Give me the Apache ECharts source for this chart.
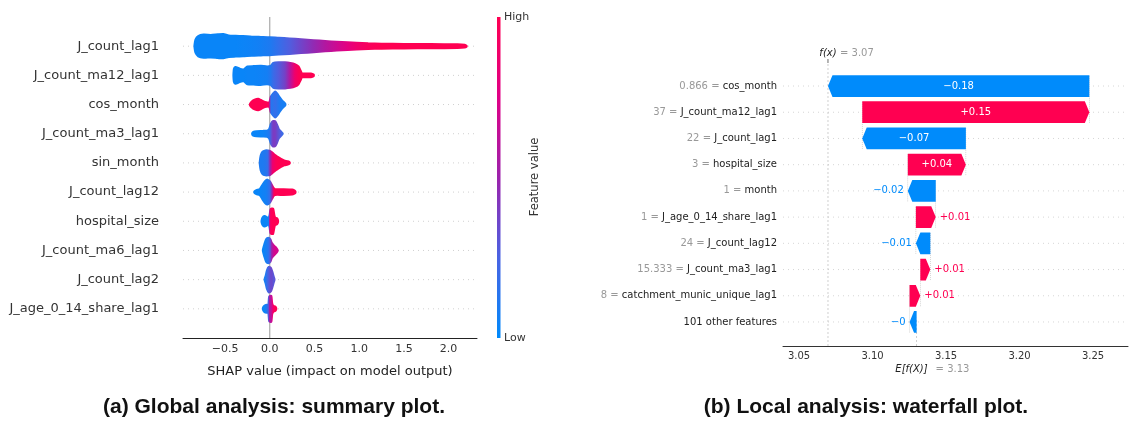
<!DOCTYPE html>
<html><head><meta charset="utf-8">
<script src="https://cdn.jsdelivr.net/npm/echarts@6/dist/echarts.min.js"></script>
<style>html,body{margin:0;padding:0;background:#fff}#c{width:1130px;height:421px}</style>
</head><body><div id="c"></div>
<script>
// ================= DATA =================
// (a) Summary plot: features from top to bottom
const summaryFeatures = ['J_count_lag1','J_count_ma12_lag1','cos_month','J_count_ma3_lag1','sin_month','J_count_lag12','hospital_size','J_count_ma6_lag1','J_count_lag2','J_age_0_14_share_lag1'];
// beeswarm outlines: [SHAP value, half-thickness (row units), feature value 0..1]
const swarm_J_count_lag1 = [[-0.84,0.05,0.03],[-0.83,0.22,0.03],[-0.80,0.34,0.03],[-0.74,0.39,0.03],[-0.66,0.38,0.03],[-0.58,0.40,0.03],[-0.52,0.41,0.03],[-0.46,0.36,0.03],[-0.38,0.35,0.03],[-0.30,0.34,0.04],[-0.2,0.32,0.05],[-0.1,0.31,0.07],[0.0,0.30,0.1],[0.1,0.28,0.18],[0.22,0.26,0.27],[0.35,0.23,0.37],[0.49,0.2,0.47],[0.62,0.17,0.58],[0.75,0.145,0.68],[0.87,0.125,0.78],[0.97,0.11,0.87],[1.1,0.09,0.95],[1.25,0.08,1],[1.5,0.07,1],[1.8,0.065,1],[2.1,0.058,1],[2.18,0.04,1],[2.2,0.01,1]];
const swarm_J_count_ma12_lag1 = [[-0.405,0.03,0.03],[-0.40,0.22,0.03],[-0.385,0.28,0.03],[-0.36,0.26,0.03],[-0.33,0.21,0.03],[-0.29,0.2,0.03],[-0.25,0.3,0.04],[-0.18,0.31,0.04],[-0.1,0.32,0.05],[-0.03,0.3,0.07],[0.01,0.32,0.12],[0.04,0.42,0.2],[0.1,0.44,0.28],[0.17,0.44,0.38],[0.23,0.42,0.6],[0.28,0.38,0.88],[0.32,0.3,0.97],[0.345,0.15,1],[0.36,0.06,1],[0.46,0.055,1],[0.49,0.02,1]];
const swarm_cos_month = [[-0.22,0.02,1],[-0.2,0.1,1],[-0.17,0.16,1],[-0.13,0.19,1],[-0.1,0.15,1],[-0.07,0.1,1],[-0.04,0.07,1],[-0.015,0.06,0.95],[0.0,0.1,0.5],[0.012,0.26,0.12],[0.035,0.36,0.15],[0.06,0.44,0.18],[0.08,0.38,0.15],[0.11,0.24,0.1],[0.14,0.12,0.08],[0.165,0.05,0.08],[0.172,0.02,0.08]];
const swarm_J_count_ma3_lag1 = [[-0.195,0.02,0.03],[-0.185,0.06,0.03],[-0.15,0.08,0.03],[-0.08,0.09,0.04],[-0.03,0.1,0.08],[-0.005,0.16,0.12],[0.015,0.34,0.3],[0.035,0.43,0.4],[0.06,0.42,0.4],[0.08,0.3,0.35],[0.1,0.15,0.3],[0.125,0.07,0.25],[0.14,0.02,0.2]];
const swarm_sin_month = [[-0.11,0.04,0.1],[-0.1,0.25,0.1],[-0.08,0.38,0.1],[-0.05,0.42,0.12],[-0.02,0.42,0.18],[0.005,0.4,0.5],[0.03,0.34,0.85],[0.06,0.26,0.95],[0.09,0.2,1],[0.12,0.14,1],[0.16,0.08,1],[0.2,0.05,1],[0.22,0.02,1]];
const swarm_J_count_lag12 = [[-0.17,0.02,0.03],[-0.15,0.06,0.03],[-0.11,0.1,0.03],[-0.08,0.25,0.05],[-0.05,0.38,0.06],[-0.025,0.42,0.1],[0.0,0.36,0.18],[0.025,0.22,0.5],[0.045,0.12,0.95],[0.06,0.09,1],[0.15,0.09,1],[0.25,0.08,1],[0.275,0.05,1],[0.285,0.02,1]];
const swarm_hospital_size = [[-0.09,0.03,0.03],[-0.08,0.12,0.03],[-0.06,0.17,0.03],[-0.035,0.14,0.04],[-0.015,0.09,0.08],[0.0,0.22,0.8],[0.01,0.41,0.95],[0.035,0.43,1],[0.05,0.2,1],[0.06,0.12,1],[0.08,0.1,1],[0.09,0.03,1]];
const swarm_J_count_ma6_lag1 = [[-0.075,0.03,0.03],[-0.06,0.2,0.05],[-0.04,0.38,0.08],[-0.015,0.43,0.15],[0.005,0.38,0.3],[0.02,0.26,0.5],[0.04,0.18,0.65],[0.06,0.12,0.72],[0.075,0.07,0.7],[0.085,0.02,0.7]];
const swarm_J_count_lag2 = [[-0.055,0.03,0.08],[-0.045,0.12,0.12],[-0.03,0.32,0.2],[-0.01,0.43,0.28],[0.01,0.4,0.35],[0.025,0.28,0.35],[0.04,0.12,0.3],[0.05,0.02,0.3]];
const swarm_J_age_0_14_share_lag1 = [[-0.075,0.03,0.03],[-0.06,0.1,0.05],[-0.035,0.13,0.1],[-0.015,0.12,0.3],[-0.005,0.42,0.55],[0.015,0.44,0.6],[0.025,0.18,0.75],[0.04,0.09,0.9],[0.06,0.07,1],[0.07,0.02,1]];
const swarmList = [swarm_J_count_lag1, swarm_J_count_ma12_lag1, swarm_cos_month, swarm_J_count_ma3_lag1, swarm_sin_month, swarm_J_count_lag12, swarm_hospital_size, swarm_J_count_ma6_lag1, swarm_J_count_lag2, swarm_J_age_0_14_share_lag1];

// (b) Waterfall plot: rows from top to bottom
const wfFeatures = ['cos_month','J_count_ma12_lag1','J_count_lag1','hospital_size','month','J_age_0_14_share_lag1','J_count_lag12','J_count_ma3_lag1','catchment_munic_unique_lag1','101 other features'];
const wfFeatureValues = [0.866, 37, 22, 3, 1, 1, 24, 15.333, 8, null];
const wfShap = [-0.1778, 0.1545, -0.0705, 0.0395, -0.019, 0.0135, -0.0098, 0.0068, 0.0073, -0.0048];
const wfBase = 3.13;

// texts
const captionA = '(a) Global analysis: summary plot.';
const captionB = '(b) Local analysis: waterfall plot.';

// ================= STYLE / LAYOUT =================
const FONT = '"DejaVu Sans", sans-serif';
const POS = '#ff0051', NEG = '#008bfb';
const cmStops = [[0,[0,138,251]],[0.25,[73,99,227]],[0.5,[156,34,172]],[0.75,[224,0,134]],[1,[255,0,82]]];
function cmap(v){
  v = Math.max(0, Math.min(1, v));
  for (let i = 0; i < cmStops.length - 1; i++) {
    const a = cmStops[i], b = cmStops[i+1];
    if (v <= b[0]) {
      const t = (v - a[0]) / (b[0] - a[0]);
      const c = a[1].map((x, j) => Math.round(x + (b[1][j] - x) * t));
      return 'rgb(' + c.join(',') + ')';
    }
  }
  return 'rgb(255,0,82)';
}
const sXMin = -0.971, sXMax = 2.318;
const wfXMin = 3.0391, wfXMax = 3.2738, wfYMin = -0.916, wfYMax = 9.878;
const wfHalf = 0.415;

// waterfall cumulative positions
const wfStart = [], wfEnd = [];
let cur = wfBase;
for (let i = wfShap.length - 1; i >= 0; i--) { wfStart[i] = cur; wfEnd[i] = cur + wfShap[i]; cur = wfEnd[i]; }
const wfFx = cur;
function fmtShap(v){ let s = (v >= 0 ? '+' : '-') + Math.abs(v).toFixed(2); s = s.replace(/\.?0+$/, ''); return s.replace('-', '\u2212'); }
function fmtVal(v){ return v.toFixed(3).replace(/\.?0+$/, ''); }

const chart = echarts.init(document.getElementById('c'), null, {renderer: 'canvas'});

const option = {
  animation: false,
  backgroundColor: '#fff',
  textStyle: {fontFamily: FONT},
  grid: [
    {left: 183, right: 653, top: 17, bottom: 83, outerBoundsMode: 'none'},
    {left: 783, right: 2, top: 63, bottom: 75, outerBoundsMode: 'none'}
  ],
  xAxis: [
    {gridIndex: 0, type: 'value', min: sXMin, max: sXMax, splitNumber: 6,
     axisLine: {onZero: false, lineStyle: {color: '#222', width: 1}}, axisTick: {show: false}, splitLine: {show: false},
     axisLabel: {showMinLabel: false, showMaxLabel: false, fontSize: 11, color: '#333', fontFamily: FONT, margin: 6,
                 formatter: v => v.toFixed(1).replace('-', '\u2212')},
     name: 'SHAP value (impact on model output)', nameLocation: 'middle', nameGap: 27,
     nameTextStyle: {fontSize: 13, color: '#222', fontFamily: FONT}},
    {gridIndex: 1, type: 'value', min: wfXMin, max: wfXMax, splitNumber: 5,
     axisLine: {onZero: false, lineStyle: {color: '#333', width: 1}}, axisTick: {show: false}, splitLine: {show: false},
     axisLabel: {showMinLabel: false, showMaxLabel: false, fontSize: 10, color: '#333', fontFamily: FONT, margin: 5,
                 formatter: v => v.toFixed(2)}}
  ],
  yAxis: [
    {gridIndex: 0, type: 'value', min: -1, max: 10, interval: 1,
     axisLine: {show: false, onZero: false}, axisTick: {show: false}, splitLine: {show: false},
     axisLabel: {fontSize: 13, color: '#333', fontFamily: FONT, margin: 24,
                 formatter: v => (v >= 0 && v <= 9) ? summaryFeatures[9 - v] : ''}},
    {gridIndex: 1, type: 'value', min: wfYMin, max: wfYMax, show: false, axisLine: {onZero: false}}
  ],
  graphic: [
    {type: 'rect', shape: {x: 497, y: 17, width: 3.5, height: 321},
     style: {fill: new echarts.graphic.LinearGradient(0, 0, 0, 1, [1, 0.75, 0.5, 0.25, 0].map((v, k) => ({offset: k / 4, color: cmap(v)})))}},
    {type: 'text', x: 504, y: 17, style: {text: 'High', fill: '#333', font: '11px ' + FONT, align: 'left', verticalAlign: 'middle'}},
    {type: 'text', x: 504, y: 338, style: {text: 'Low', fill: '#333', font: '11px ' + FONT, align: 'left', verticalAlign: 'middle'}},
    {type: 'text', x: 535, y: 177, rotation: Math.PI / 2, style: {text: 'Feature value', fill: '#333', font: '11.5px ' + FONT, align: 'center', verticalAlign: 'middle'}},
    {type: 'text', x: 274, y: 407, style: {text: captionA, fill: '#111', font: 'bold 21px "Liberation Sans", Arial, sans-serif', align: 'center', verticalAlign: 'middle'}},
    {type: 'text', x: 866, y: 407, style: {text: captionB, fill: '#111', font: 'bold 21px "Liberation Sans", Arial, sans-serif', align: 'center', verticalAlign: 'middle'}}
  ],
  series: [
    // summary grid lines
    {type: 'custom', xAxisIndex: 0, yAxisIndex: 0, z: 1, silent: true, clip: false,
     data: summaryFeatures.map((f, i) => [0, 9 - i]), encode: {x: 0, y: 1},
     renderItem: (params, api) => {
       const r = 9 - params.dataIndex;
       const a = api.coord([sXMin, r]), b = api.coord([sXMax, r]);
       return {type: 'line', shape: {x1: a[0], y1: a[1], x2: b[0], y2: b[1]}, style: {stroke: '#d0d0d0', lineWidth: 1, lineDash: [1, 4]}};
     }},
    // zero line
    {type: 'custom', xAxisIndex: 0, yAxisIndex: 0, z: 2, silent: true, clip: false,
     data: [[0, 0]], encode: {x: 0, y: 1},
     renderItem: (params, api) => {
       const a = api.coord([0, -1]), b = api.coord([0, 10]);
       return {type: 'line', shape: {x1: a[0], y1: a[1], x2: b[0], y2: b[1]}, style: {stroke: '#999', lineWidth: 1}};
     }},
    // beeswarm outlines
    {type: 'custom', xAxisIndex: 0, yAxisIndex: 0, z: 3, silent: true, clip: false,
     data: summaryFeatures.map((f, i) => [0, 9 - i]), encode: {x: 0, y: 1},
     renderItem: (params, api) => {
       const i = params.dataIndex, s = swarmList[i], r = 9 - i;
       const top = s.map(p => api.coord([p[0], r + p[1]]));
       const bot = s.slice().reverse().map(p => api.coord([p[0], r - p[1]]));
       const x0 = api.coord([s[0][0], r])[0], x1 = api.coord([s[s.length - 1][0], r])[0];
       const stops = s.map(p => ({offset: Math.max(0, Math.min(1, (api.coord([p[0], r])[0] - x0) / (x1 - x0))), color: cmap(p[2])}));
       const grad = new echarts.graphic.LinearGradient(x0, 0, x1, 0, stops, true);
       return {type: 'polygon', shape: {points: top.concat(bot), smooth: 0.2},
               style: {fill: grad, stroke: grad, lineWidth: 2.4, lineJoin: 'round'}};
     }},
    // waterfall grid lines
    {type: 'custom', xAxisIndex: 1, yAxisIndex: 1, z: 1, silent: true, clip: false,
     data: wfFeatures.map((f, i) => [wfXMin, 9 - i]), encode: {x: 0, y: 1},
     renderItem: (params, api) => {
       const r = 9 - params.dataIndex;
       const a = api.coord([wfXMin, r]), b = api.coord([wfXMax, r]);
       return {type: 'line', shape: {x1: a[0], y1: a[1], x2: b[0], y2: b[1]}, style: {stroke: '#d6d6d6', lineWidth: 1, lineDash: [1, 4]}};
     }},
    // waterfall reference lines and f(x), E[f(X)] annotations
    {type: 'custom', xAxisIndex: 1, yAxisIndex: 1, z: 2, silent: true, clip: false,
     data: [[wfFx, 0]], encode: {x: 0, y: 1},
     renderItem: (params, api) => {
       const ch = [];
       const fb = api.coord([wfFx, wfYMin]), ft = api.coord([wfFx, wfYMax]);
       ch.push({type: 'line', shape: {x1: fb[0], y1: fb[1], x2: ft[0], y2: ft[1]}, style: {stroke: '#c4c4c4', lineWidth: 0.8, lineDash: [2, 2]}});
       ch.push({type: 'line', shape: {x1: ft[0], y1: ft[1], x2: ft[0], y2: ft[1] - 4}, style: {stroke: '#444', lineWidth: 0.8}});
       ch.push({type: 'text', x: ft[0], y: ft[1] - 10, style: {text: 'f(x)', fill: '#222', font: 'italic 10px ' + FONT, align: 'center', verticalAlign: 'middle'}});
       ch.push({type: 'text', x: ft[0] + 12, y: ft[1] - 10, style: {text: '= ' + fmtVal(wfFx), fill: '#999', font: '10px ' + FONT, align: 'left', verticalAlign: 'middle'}});
       const eb = api.coord([wfBase, wfYMin]), et = api.coord([wfBase, wfYMin + (wfYMax - wfYMin) / 10]);
       ch.push({type: 'line', shape: {x1: eb[0], y1: eb[1], x2: et[0], y2: et[1]}, style: {stroke: '#c4c4c4', lineWidth: 0.8, lineDash: [2, 2]}});
       ch.push({type: 'text', x: eb[0] + 11, y: eb[1] + 23, style: {text: 'E[f(X)]', fill: '#222', font: 'italic 10px ' + FONT, align: 'right', verticalAlign: 'middle'}});
       ch.push({type: 'text', x: eb[0] + 19, y: eb[1] + 23, style: {text: '= ' + fmtVal(wfBase), fill: '#999', font: '10px ' + FONT, align: 'left', verticalAlign: 'middle'}});
       for (let i = 0; i < wfShap.length - 1; i++) {
         const r = 9 - i;
         const a = api.coord([wfStart[i], r - 1 - 0.4]), b = api.coord([wfStart[i], r + 0.4]);
         ch.push({type: 'line', shape: {x1: a[0], y1: a[1], x2: b[0], y2: b[1]}, style: {stroke: '#bbb', lineWidth: 0.6, lineDash: [1, 1]}});
       }
       return {type: 'group', children: ch};
     }},
    // waterfall arrows + value labels
    {type: 'custom', xAxisIndex: 1, yAxisIndex: 1, z: 4, silent: true, clip: false,
     data: wfShap.map((v, i) => [wfStart[i], wfEnd[i], 9 - i]), encode: {x: [0, 1], y: 2},
     renderItem: (params, api) => {
       const i = params.dataIndex, r = 9 - i, v = wfShap[i];
       const pS = api.coord([wfStart[i], r]), pE = api.coord([wfEnd[i], r]);
       const top = api.coord([wfStart[i], r + wfHalf])[1], bot = api.coord([wfStart[i], r - wfHalf])[1], mid = pS[1];
       const w = Math.abs(pE[0] - pS[0]);
       const hl = Math.min(4.5, w);
       const d = v >= 0 ? -1 : 1;
       const pts = [[pS[0], top], [pE[0] + d * hl, top], [pE[0], mid], [pE[0] + d * hl, bot], [pS[0], bot]];
       const col = v >= 0 ? POS : NEG;
       const ch = [{type: 'polygon', shape: {points: pts}, style: {fill: col}}];
       const txt = fmtShap(v);
       if (w > 40) {
         ch.push({type: 'text', x: (pS[0] + pE[0]) / 2, y: mid, style: {text: txt, fill: '#fff', font: '10px ' + FONT, align: 'center', verticalAlign: 'middle'}});
       } else if (v >= 0) {
         ch.push({type: 'text', x: pE[0] + 4, y: mid, style: {text: txt, fill: col, font: '10px ' + FONT, align: 'left', verticalAlign: 'middle'}});
       } else {
         ch.push({type: 'text', x: pE[0] - 4, y: mid, style: {text: txt, fill: col, font: '10px ' + FONT, align: 'right', verticalAlign: 'middle'}});
       }
       return {type: 'group', children: ch};
     }},
    // waterfall row labels
    {type: 'custom', xAxisIndex: 1, yAxisIndex: 1, z: 4, silent: true, clip: false,
     data: wfFeatures.map((f, i) => [wfXMin, 9 - i]), encode: {x: 0, y: 1},
     renderItem: (params, api) => {
       const i = params.dataIndex, r = 9 - i;
       const p = api.coord([wfXMin, r]);
       const val = wfFeatureValues[i];
       const text = val === null ? '{n|' + wfFeatures[i] + '}' : '{v|' + fmtVal(val) + ' = }{n|' + wfFeatures[i] + '}';
       return {type: 'text', x: p[0] - 6, y: p[1], style: {text: text, font: '10px ' + FONT, align: 'right', verticalAlign: 'middle',
               rich: {v: {fill: '#999', fontSize: 10, fontFamily: FONT}, n: {fill: '#222', fontSize: 10, fontFamily: FONT}}}};
     }}
  ]
};
chart.setOption(option);
</script>
</body></html>
